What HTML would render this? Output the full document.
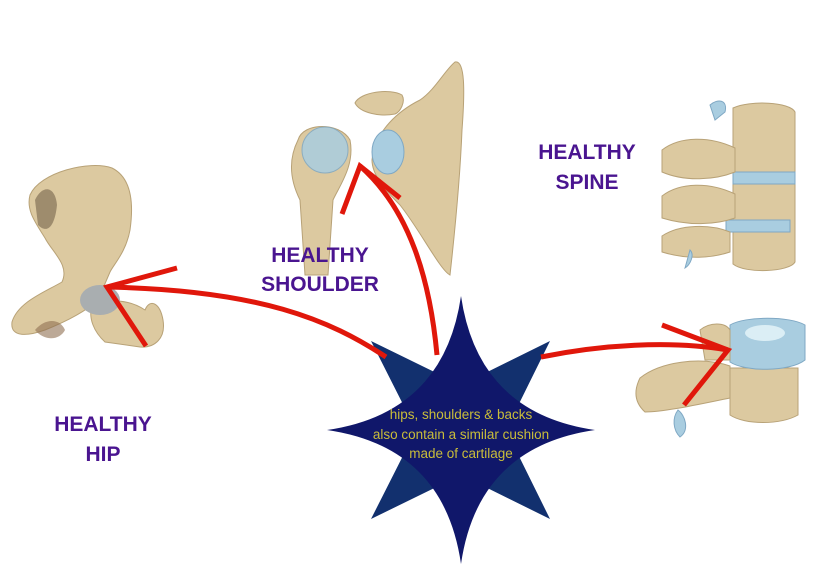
<!DOCTYPE html>
<html><head><meta charset="utf-8"><style>
html,body{margin:0;padding:0;background:#fff;}
svg{display:block;}
.lbl{font-family:"Liberation Sans",sans-serif;font-weight:bold;font-size:21px;fill:#4a1590;text-anchor:middle;}
.st{font-family:"Liberation Sans",sans-serif;font-size:13.5px;fill:#c9bd3a;text-anchor:middle;}
.bone{fill:#dcc9a0;stroke:#b8a277;stroke-width:1;}
.disc{fill:#a9cde0;stroke:#7fa8c4;stroke-width:1;}
</style></head><body>
<svg width="840" height="582" viewBox="0 0 840 582" xmlns="http://www.w3.org/2000/svg">
<!-- HIP -->
<g>
<path class="bone" d="M30,195 C40,172 90,160 112,168 C128,176 135,195 130,230 C126,252 114,264 110,272 L98,300 C85,312 65,322 45,330 C28,336 10,338 12,322 C18,302 45,292 62,282 C70,265 52,252 45,238 C35,222 26,210 30,195 Z"/>
<path fill="#6b5a44" opacity="0.55" d="M35,200 C42,185 55,185 57,205 C55,225 48,235 38,225 Z"/>
<path class="bone" d="M92,305 C110,298 130,300 145,310 C150,298 160,303 163,320 C166,338 155,348 140,347 L105,342 C94,332 88,318 92,305 Z"/>
<ellipse cx="100" cy="300" rx="20" ry="15" fill="#a9aeb0"/>
<path fill="#8f6f52" opacity="0.6" d="M35,330 C45,318 60,318 65,330 C60,340 45,342 35,330 Z"/>
</g>
<!-- SHOULDER -->
<g>
<path class="bone" d="M298,140 C303,122 340,122 350,140 C355,165 340,185 333,200 L328,275 L305,275 L300,200 C290,180 288,160 298,140 Z"/>
<circle cx="325" cy="150" r="23" class="disc" opacity="0.85"/>
<path class="bone" d="M455,62 C465,60 465,90 462,130 C460,180 455,230 450,275 C440,270 420,230 400,205 C385,190 372,175 372,160 C375,130 400,110 420,100 C435,90 445,70 455,62 Z"/>
<path class="bone" d="M355,103 C360,92 390,88 402,95 C406,102 400,112 395,114 C380,117 360,113 355,103 Z"/>
<ellipse cx="388" cy="152" rx="16" ry="22" class="disc"/>
</g>
<!-- SPINE TOP -->
<g>
<path class="bone" d="M733,108 C750,100 790,102 795,112 L795,262 C790,272 745,274 733,264 Z"/>
<rect x="733" y="172" width="62" height="12" class="disc"/>
<rect x="726" y="220" width="64" height="12" class="disc"/>
<path class="bone" d="M662,150 C680,136 710,136 735,148 L735,172 C715,180 685,182 662,172 Z"/>
<path class="bone" d="M662,196 C680,182 710,182 735,194 L735,218 C715,225 688,226 662,218 Z"/>
<path class="bone" d="M662,236 C680,224 710,224 730,232 L730,252 C712,258 688,260 662,252 Z"/>
<path class="disc" d="M710,105 C718,98 728,100 725,112 L715,120 Z"/>
<path class="disc" d="M690,250 C695,255 690,265 685,268 Z"/>
</g>
<!-- SPINE BOTTOM -->
<g>
<path class="bone" d="M730,368 L798,368 L798,415 C780,425 745,425 730,415 Z"/>
<path class="disc" d="M730,325 C745,316 790,316 805,325 L805,360 C790,372 745,372 730,362 Z"/>
<ellipse cx="765" cy="333" rx="20" ry="8" fill="#dbeef5"/>
<path class="bone" d="M640,378 C660,362 700,356 730,366 L730,398 C700,404 665,412 645,412 C634,402 634,390 640,378 Z"/>
<path class="bone" d="M700,330 C710,322 725,322 730,330 L730,360 L705,360 Z"/>
<path class="disc" d="M678,410 C685,415 690,430 680,437 C673,430 672,418 678,410 Z"/>
</g>
<!-- STAR -->
<polygon fill="#12306e" points="371,341 461,385 550,341 506,430 550,519 461,475 371,519 416,430"/>
<path fill="#10176a" d="M461,296 Q478,413 595,430 Q478,447 461,564 Q444,447 327,430 Q444,413 461,296 Z"/>
<text class="st" x="461" y="419">hips, shoulders &amp; backs</text>
<text class="st" x="461" y="439">also contain a similar cushion</text>
<text class="st" x="461" y="458">made of cartilage</text>
<!-- ARROWS -->
<g fill="none" stroke="#e0170b" stroke-width="5" stroke-linecap="butt" stroke-linejoin="miter">
<path d="M386,357 C330,320 260,290 107,287"/>
<path d="M177,268 L107,287 L146,346"/>
<path d="M437,355 C430,280 410,210 360,166"/>
<path d="M342,214 L360,166 L400,198"/>
<path d="M541,357 C600,345 670,340 728,350"/>
<path d="M662,325 L728,350 L684,405"/>
</g>
<!-- LABELS -->
<text class="lbl" x="103" y="431">HEALTHY</text>
<text class="lbl" x="103" y="461">HIP</text>
<text class="lbl" x="320" y="262">HEALTHY</text>
<text class="lbl" x="320" y="291">SHOULDER</text>
<text class="lbl" x="587" y="159">HEALTHY</text>
<text class="lbl" x="587" y="189">SPINE</text>
</svg>
</body></html>
